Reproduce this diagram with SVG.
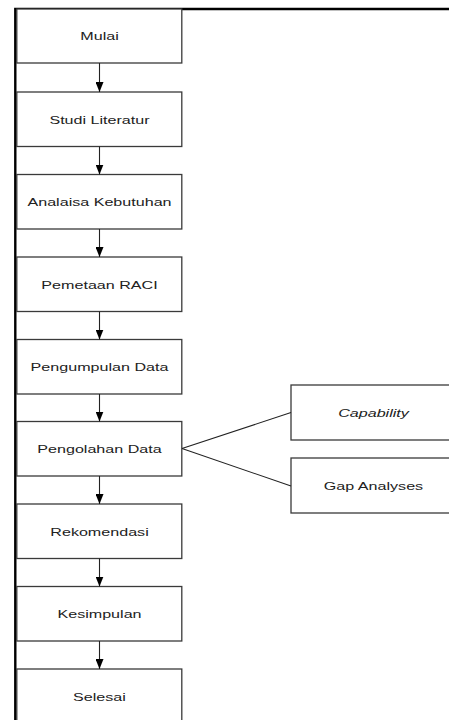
<svg xmlns="http://www.w3.org/2000/svg" width="449" height="720" viewBox="0 0 449 720">
<style>
.box{fill:#fff;stroke:#3a3a3a;stroke-width:1.3}
.t{font-family:"Liberation Sans",Arial,sans-serif;font-size:11.5px;fill:#222;text-anchor:middle}
.i{font-style:italic}
.c{stroke:#222;stroke-width:1.1;fill:none}
.frame{stroke:#000;stroke-width:2.4;fill:none}
</style>
<defs>
<marker id="ah" markerUnits="userSpaceOnUse" markerWidth="11" markerHeight="8" refX="10" refY="4" orient="auto">
<path d="M0,0 L10,4 L0,8 Z" fill="#000"/>
</marker>
</defs>
<rect width="449" height="720" fill="#fff"/>
<path class="frame" d="M15.3,720 V9 H449"/>
<g id="n1"><rect class="box" x="16.8" y="9" width="165" height="54"/><text class="t" transform="translate(99.5,40) scale(1.4,1)">Mulai</text></g>
<g id="n2"><rect class="box" x="16.8" y="92" width="165" height="54.5"/><text class="t" transform="translate(99.5,123.5) scale(1.4,1)">Studi Literatur</text></g>
<g id="n3"><rect class="box" x="16.8" y="174.5" width="165" height="54.5"/><text class="t" transform="translate(99.5,206) scale(1.4,1)">Analaisa Kebutuhan</text></g>
<g id="n4"><rect class="box" x="16.8" y="257" width="165" height="54.5"/><text class="t" transform="translate(99.5,288.5) scale(1.4,1)">Pemetaan RACI</text></g>
<g id="n5"><rect class="box" x="16.8" y="339.5" width="165" height="54.5"/><text class="t" transform="translate(99.5,371) scale(1.4,1)">Pengumpulan Data</text></g>
<g id="n6"><rect class="box" x="16.8" y="421.5" width="165" height="54.5"/><text class="t" transform="translate(99.5,453) scale(1.4,1)">Pengolahan Data</text></g>
<g id="n7"><rect class="box" x="16.8" y="504" width="165" height="54.5"/><text class="t" transform="translate(99.5,535.5) scale(1.4,1)">Rekomendasi</text></g>
<g id="n8"><rect class="box" x="16.8" y="586.5" width="165" height="54.5"/><text class="t" transform="translate(99.5,618) scale(1.4,1)">Kesimpulan</text></g>
<g id="n9"><rect class="box" x="16.8" y="669" width="165" height="60"/><text class="t" transform="translate(99.5,700.5) scale(1.4,1)">Selesai</text></g>
<g id="s1"><rect class="box" x="291" y="385" width="165" height="55"/><text class="t i" transform="translate(373.5,416.5) scale(1.4,1)">Capability</text></g>
<g id="s2"><rect class="box" x="291" y="458" width="165" height="55"/><text class="t" transform="translate(373.5,489.5) scale(1.4,1)">Gap Analyses</text></g>
<g id="connectors">
<path class="c" marker-end="url(#ah)" d="M99.5,63 V92"/>
<path class="c" marker-end="url(#ah)" d="M99.5,146.5 V174.5"/>
<path class="c" marker-end="url(#ah)" d="M99.5,229 V257"/>
<path class="c" marker-end="url(#ah)" d="M99.5,311.5 V339.5"/>
<path class="c" marker-end="url(#ah)" d="M99.5,394 V421.5"/>
<path class="c" marker-end="url(#ah)" d="M99.5,476 V504"/>
<path class="c" marker-end="url(#ah)" d="M99.5,558.5 V586.5"/>
<path class="c" marker-end="url(#ah)" d="M99.5,641 V669"/>
<path class="c" d="M182,448.5 L291,412.5 M182,448.5 L291,486"/>
</g>
</svg>
